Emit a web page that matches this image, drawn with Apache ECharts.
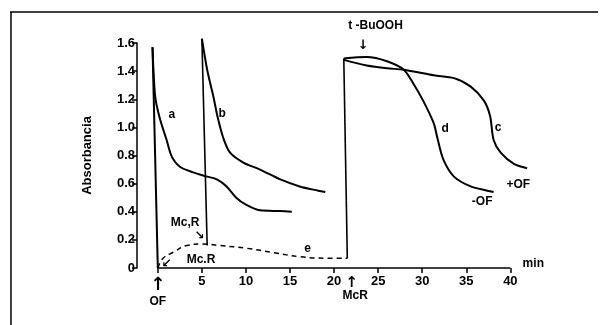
<!DOCTYPE html>
<html>
<head>
<meta charset="utf-8">
<script src="https://cdn.jsdelivr.net/npm/echarts@6/dist/echarts.min.js"></script>
<style>
  html, body { margin: 0; padding: 0; background: #fff; }
  #chart { width: 613px; height: 325px; }
</style>
</head>
<body>
<div id="chart"></div>
<script>
// time (min), absorbance
const xTicks = [0, 5, 10, 15, 20, 25, 30, 35, 40]
const yTicks = [0, 0.2, 0.4, 0.6, 0.8, 1.0, 1.2, 1.4, 1.6]
const xSpan = [[0, 0], [40, 0]] // drawn x axis runs 0..40 only

const spikeA = [[0, 0], [-0.6, 1.57]]
const curveA = [[-0.6, 1.57], [-0.3, 1.22], [0.2, 1.07], [1.0, 0.91], [1.6, 0.79], [2.5, 0.72], [4.0, 0.68],
  [5.6, 0.65], [6.7, 0.63], [7.8, 0.58], [8.9, 0.5], [10.0, 0.45], [11.6, 0.41], [13.9, 0.405], [15.2, 0.4]]

const spikeB = [[5.6, 0.16], [5.0, 1.63]]
const curveB = [[5.0, 1.63], [5.6, 1.41], [6.3, 1.22], [6.8, 1.07], [7.4, 0.93], [8.2, 0.82], [9.7, 0.75],
  [11.6, 0.7], [13.9, 0.63], [16.1, 0.58], [18.2, 0.55], [19.0, 0.54]]

const curveE = [[0, 0], [0.6, 0.07], [1.7, 0.11], [3.3, 0.16], [5.1, 0.17], [7.0, 0.16], [10.1, 0.14],
  [13.1, 0.11], [16.1, 0.08], [19.2, 0.07], [21.5, 0.07]]

const jumpCD = [[21.5, 0.07], [21.1, 1.49]]
const curveC = [[21.1, 1.48], [23.7, 1.44], [26.0, 1.42], [27.9, 1.41], [31.3, 1.37], [33.6, 1.35], [35.5, 1.29],
  [37.0, 1.19], [37.7, 1.08], [38.1, 0.91], [38.9, 0.82], [40.4, 0.74], [41.9, 0.71]]
const curveD = [[21.1, 1.49], [23.7, 1.5], [26.0, 1.47], [27.9, 1.41], [29.0, 1.31], [30.1, 1.19], [31.3, 1.03],
  [31.7, 0.93], [32.4, 0.77], [33.6, 0.65], [35.5, 0.58], [37.4, 0.55], [38.1, 0.54]]

// text annotations at data coordinates
const notes = [
  { t: 'a', at: [1.6, 1.09] },
  { t: 'b', at: [7.3, 1.1] },
  { t: 'c', at: [38.6, 1.0] },
  { t: 'd', at: [32.6, 0.99] },
  { t: 'e', at: [17.0, 0.14] },
  { t: '+OF', at: [40.9, 0.59] },
  { t: '-OF', at: [36.8, 0.47] },
  { t: 'min', at: [42.6, 0.03] },
  { t: 't -BuOOH', at: [24.7, 1.72] },
  { t: 'Mc,R', at: [3.1, 0.32] },
  { t: 'Mc.R', at: [4.9, 0.06] },
  { t: 'OF', at: [0, -0.24] },
  { t: 'McR', at: [22.4, -0.2] },
]
const arrows = [
  { t: '↓', at: [23.3, 1.58], size: 13 },
  { t: '↘', at: [4.7, 0.23], size: 12 },
  { t: '↙', at: [1.0, 0.03], size: 12 },
  { t: '↑', at: [0, -0.12], size: 18 },
  { t: '↑', at: [22.0, -0.11], size: 15 },
]

const FONT = 'Liberation Sans'
const line = (data, extra) => ({
  type: 'line', data, showSymbol: false, clip: false, silent: true,
  lineStyle: { color: '#000', width: 2 }, ...extra,
})

const myChart = echarts.init(document.getElementById('chart'), null, { renderer: 'canvas' })

const option = {
  animation: false,
  backgroundColor: '#fff',
  grid: { left: 149, right: 85, top: 43, bottom: 57 },
  xAxis: {
    type: 'value', min: -1, max: 42,
    axisLine: { show: false, onZero: false },
    axisTick: { lineStyle: { color: '#000', width: 1.5 }, length: 5, customValues: xTicks },
    splitLine: { show: false },
    axisLabel: {
      color: '#000', fontSize: 13, fontWeight: 'bold', fontFamily: FONT, margin: 7,
      customValues: xTicks.slice(1),
    },
  },
  yAxis: {
    type: 'value', min: 0, max: 1.6, interval: 0.2, offset: 12,
    name: 'Absorbancia', nameLocation: 'middle', nameGap: 43, nameRotate: 90,
    nameTextStyle: { color: '#000', fontSize: 13, fontWeight: 'bold', fontFamily: FONT },
    axisLine: { show: true, onZero: false, lineStyle: { color: '#000', width: 1.5 } },
    axisTick: { show: true, lineStyle: { color: '#000', width: 1.5 }, length: 5 },
    splitLine: { show: false },
    axisLabel: {
      color: '#000', fontSize: 13, fontWeight: 'bold', fontFamily: FONT, margin: 2,
      formatter: (v) => {
        const t = yTicks.find((k) => Math.abs(k - v) < 1e-6)
        if (t === undefined) return ''
        return t === 0 ? '0' : t.toFixed(1)
      },
    },
  },
  series: [
    line(xSpan, { lineStyle: { color: '#000', width: 1.5 } }),
    line(spikeA, { lineStyle: { color: '#000', width: 2 } }),
    line(curveA, { smooth: 0.3 }),
    line(spikeB, { lineStyle: { color: '#000', width: 1.6 } }),
    line(curveB, { smooth: 0.3 }),
    line(curveE, { smooth: 0.4, lineStyle: { color: '#000', width: 1.5, type: [5, 4] } }),
    line(jumpCD, { lineStyle: { color: '#000', width: 1.6 } }),
    line(curveC, { smooth: 0.3 }),
    line(curveD, { smooth: 0.3 }),
  ],
}

myChart.setOption(option)

const graphics = [
  // scanned frame: top and left edges
  { type: 'line', shape: { x1: 10, y1: 12, x2: 598, y2: 12 }, style: { stroke: '#000', lineWidth: 1.5 } },
  { type: 'line', shape: { x1: 11, y1: 12, x2: 11, y2: 325 }, style: { stroke: '#000', lineWidth: 1.5 } },
]
const addText = (n, font) => {
  const [px, py] = myChart.convertToPixel({ gridIndex: 0 }, n.at)
  graphics.push({
    type: 'text', x: px, y: py,
    style: { text: n.t, fill: '#000', font, align: 'center', verticalAlign: 'middle' },
  })
}
notes.forEach((n) => addText(n, `bold 12px "${FONT}"`))
arrows.forEach((n) => addText(n, `bold ${n.size}px "DejaVu Sans"`))
myChart.setOption({ graphic: graphics })
</script>
</body>
</html>
